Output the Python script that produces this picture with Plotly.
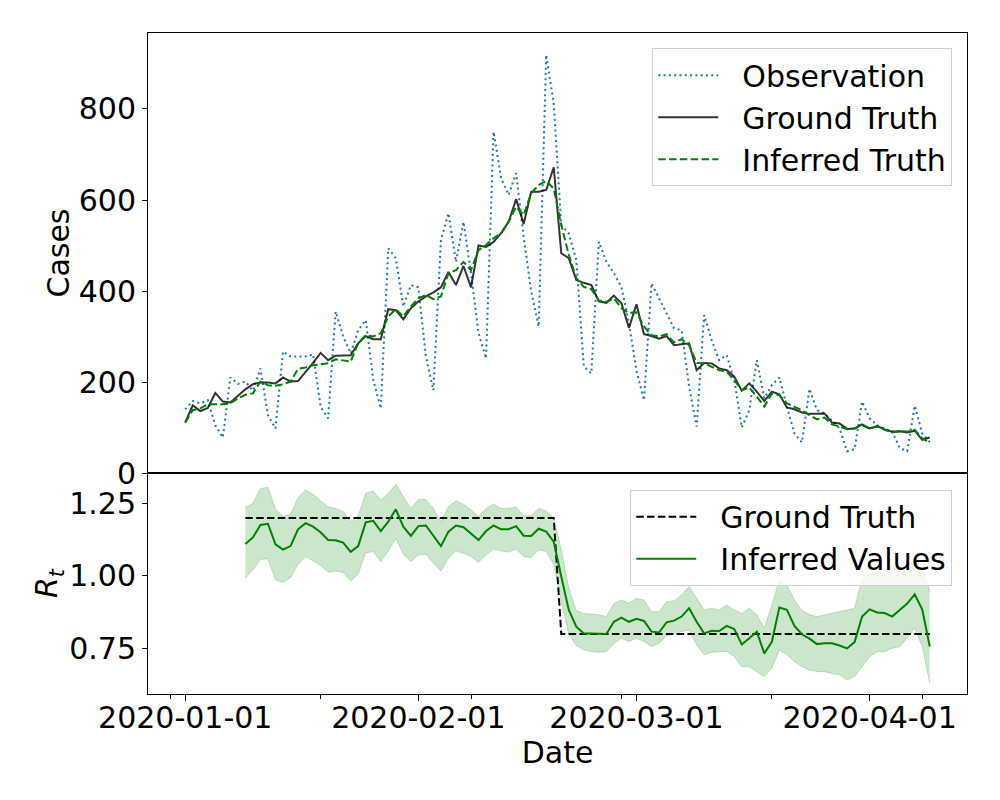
import plotly.graph_objects as go
from plotly.subplots import make_subplots
import pandas as pd

# ---------------- data ----------------
CASES_START = "2020-01-01"
RT_START = "2020-01-09"

observation = [
    140, 158, 153, 160, 105, 78, 210, 196, 201, 181,
    230, 127, 98, 267, 256, 256, 256, 261, 146, 120,
    355, 300, 263, 314, 336, 205, 142, 494, 472, 366,
    413, 408, 256, 182, 512, 571, 464, 552, 439, 307,
    252, 750, 648, 611, 659, 519, 400, 322, 919, 812,
    545, 527, 468, 234, 219, 508, 464, 439, 409, 330,
    225, 160, 417, 384, 351, 318, 314, 190, 102, 347,
    292, 248, 259, 205, 100, 138, 248, 164, 193, 210,
    146, 87, 67, 185, 138, 131, 115, 98, 48, 52,
    157, 120, 105, 98, 91, 55, 48, 148, 87, 68,
]

ground_truth = [
    111, 149, 136, 143, 176, 157, 155, 169, 184, 195,
    199, 199, 197, 210, 201, 202, 221, 242, 264, 248,
    258, 259, 259, 285, 301, 294, 294, 360, 358, 338,
    362, 377, 388, 397, 408, 442, 413, 455, 408, 500,
    497, 508, 527, 552, 602, 547, 618, 618, 622, 672,
    483, 472, 424, 418, 413, 377, 374, 390, 373, 319,
    371, 305, 301, 295, 301, 281, 283, 285, 226, 242,
    241, 230, 226, 212, 181, 197, 179, 158, 179, 173,
    144, 140, 133, 130, 130, 131, 111, 109, 97, 98,
    107, 98, 103, 96, 91, 92, 89, 93, 73, 78,
]

inferred_truth = [
    111, 138, 142, 151, 151, 151, 153, 164, 172, 175,
    201, 193, 192, 195, 201, 229, 232, 237, 239, 241,
    250, 248, 245, 285, 303, 300, 307, 344, 360, 344,
    366, 384, 391, 382, 388, 439, 446, 464, 446, 490,
    501, 516, 527, 552, 585, 567, 615, 633, 642, 625,
    545, 480, 428, 409, 404, 379, 376, 384, 362, 352,
    353, 322, 303, 300, 305, 287, 294, 281, 242, 241,
    234, 226, 223, 204, 182, 188, 168, 146, 175, 171,
    153, 146, 138, 127, 118, 122, 107, 102, 96, 98,
    105, 98, 102, 95, 89, 92, 91, 95, 76, 67,
]

rt_truth = [
    1.2, 1.2, 1.2, 1.2, 1.2, 1.2, 1.2, 1.2, 1.2, 1.2,
    1.2, 1.2, 1.2, 1.2, 1.2, 1.2, 1.2, 1.2, 1.2, 1.2,
    1.2, 1.2, 1.2, 1.2, 1.2, 1.2, 1.2, 1.2, 1.2, 1.2,
    1.2, 1.2, 1.2, 1.2, 1.2, 1.2, 1.2, 1.2, 1.2, 1.2,
    1.2, 1.2,
    0.8, 0.8, 0.8, 0.8, 0.8, 0.8, 0.8, 0.8, 0.8, 0.8,
    0.8, 0.8, 0.8, 0.8, 0.8, 0.8, 0.8, 0.8, 0.8, 0.8,
    0.8, 0.8, 0.8, 0.8, 0.8, 0.8, 0.8, 0.8, 0.8, 0.8,
    0.8, 0.8, 0.8, 0.8, 0.8, 0.8, 0.8, 0.8, 0.8, 0.8,
    0.8, 0.8, 0.8, 0.8, 0.8, 0.8, 0.8, 0.8, 0.8, 0.8,
]

rt_inferred = [
    1.110, 1.133, 1.176, 1.180, 1.109, 1.091, 1.103, 1.161, 1.182, 1.170,
    1.151, 1.124, 1.123, 1.115, 1.083, 1.103, 1.185, 1.190, 1.155, 1.187,
    1.230, 1.170, 1.138, 1.172, 1.174, 1.138, 1.103, 1.153, 1.174, 1.168,
    1.147, 1.124, 1.155, 1.174, 1.161, 1.161, 1.172, 1.139, 1.138, 1.163,
    1.153, 1.118, 0.998, 0.883, 0.825, 0.802, 0.802, 0.800, 0.800, 0.842,
    0.856, 0.842, 0.852, 0.845, 0.808, 0.805, 0.840, 0.846, 0.860, 0.889,
    0.842, 0.802, 0.811, 0.810, 0.828, 0.817, 0.764, 0.785, 0.808, 0.733,
    0.773, 0.891, 0.883, 0.828, 0.799, 0.784, 0.765, 0.768, 0.768, 0.760,
    0.750, 0.772, 0.860, 0.885, 0.874, 0.872, 0.860, 0.883, 0.905, 0.937,
    0.884, 0.757,
]

rt_upper = [
    1.236, 1.251, 1.302, 1.305, 1.233, 1.205, 1.213, 1.270, 1.297, 1.282,
    1.259, 1.239, 1.233, 1.222, 1.187, 1.208, 1.285, 1.293, 1.262, 1.285,
    1.316, 1.274, 1.233, 1.264, 1.264, 1.233, 1.187, 1.239, 1.259, 1.247,
    1.228, 1.205, 1.233, 1.248, 1.233, 1.233, 1.239, 1.208, 1.208, 1.233,
    1.224, 1.200, 1.090, 0.960, 0.880, 0.871, 0.868, 0.866, 0.860, 0.906,
    0.917, 0.906, 0.923, 0.917, 0.877, 0.877, 0.912, 0.914, 0.935, 0.963,
    0.923, 0.883, 0.889, 0.883, 0.900, 0.883, 0.871, 0.889, 0.866, 0.820,
    0.900, 0.986, 0.969, 0.917, 0.883, 0.866, 0.860, 0.866, 0.871, 0.877,
    0.883, 0.889, 0.992, 1.006, 1.009, 1.006, 1.009, 1.015, 1.021, 1.044,
    1.026, 0.950,
]

rt_lower = [
    0.992, 1.021, 1.057, 1.059, 0.986, 0.978, 0.994, 1.040, 1.067, 1.052,
    1.036, 1.013, 1.017, 1.012, 0.983, 1.006, 1.080, 1.084, 1.049, 1.086,
    1.130, 1.075, 1.049, 1.072, 1.075, 1.044, 1.017, 1.061, 1.086, 1.078,
    1.067, 1.047, 1.072, 1.093, 1.086, 1.082, 1.093, 1.067, 1.064, 1.090,
    1.084, 1.040, 0.910, 0.800, 0.760, 0.745, 0.739, 0.737, 0.739, 0.768,
    0.785, 0.774, 0.785, 0.774, 0.756, 0.768, 0.794, 0.799, 0.808, 0.814,
    0.762, 0.728, 0.737, 0.739, 0.739, 0.722, 0.687, 0.687, 0.670, 0.653,
    0.682, 0.745, 0.728, 0.705, 0.687, 0.676, 0.670, 0.670, 0.664, 0.659,
    0.641, 0.653, 0.687, 0.722, 0.739, 0.739, 0.751, 0.756, 0.785, 0.820,
    0.756, 0.630,
]

cases_ticks = [0, 200, 400, 600, 800]
rt_ticks = [0.75, 1.00, 1.25]
rt_ticktext = ["0.75", "1.00", "1.25"]

# ---------------- build ----------------
dates_cases = pd.date_range(CASES_START, periods=len(observation), freq="D")
dates_rt = pd.date_range(RT_START, periods=len(rt_inferred), freq="D")

FONT = "DejaVu Sans"
FS = 30
GREEN = "#008000"
BLUE = "#1f77b4"
PAD = "\u00a0\u00a0"  # gap between legend sample and its text

fig = make_subplots(rows=2, cols=1, shared_xaxes=True, vertical_spacing=0,
                    row_heights=[0.6657, 0.3343])

fig.add_trace(go.Scatter(x=dates_cases, y=observation, mode="lines", name=PAD + "Observation",
                         line=dict(color=BLUE, width=2, dash="2px,3.3px"),
                         legend="legend"), row=1, col=1)
fig.add_trace(go.Scatter(x=dates_cases, y=ground_truth, mode="lines", name=PAD + "Ground Truth",
                         line=dict(color="rgba(0,0,0,0.8)", width=2),
                         legend="legend"), row=1, col=1)
fig.add_trace(go.Scatter(x=dates_cases, y=inferred_truth, mode="lines", name=PAD + "Inferred Truth",
                         line=dict(color=GREEN, width=2, dash="7.5px,3.3px"),
                         legend="legend"), row=1, col=1)

fig.add_trace(go.Scatter(x=dates_rt, y=rt_upper, mode="lines", showlegend=False,
                         line=dict(color="rgba(0,128,0,0.2)", width=1),
                         hoverinfo="skip"), row=2, col=1)
fig.add_trace(go.Scatter(x=dates_rt, y=rt_lower, mode="lines", showlegend=False,
                         fill="tonexty", fillcolor="rgba(0,128,0,0.2)",
                         line=dict(color="rgba(0,128,0,0.2)", width=1),
                         hoverinfo="skip"), row=2, col=1)
fig.add_trace(go.Scatter(x=dates_rt, y=rt_truth, mode="lines", name=PAD + "Ground Truth",
                         line=dict(color="black", width=2, dash="7.5px,3.3px"),
                         legend="legend2"), row=2, col=1)
fig.add_trace(go.Scatter(x=dates_rt, y=rt_inferred, mode="lines", name=PAD + "Inferred Values",
                         line=dict(color=GREEN, width=2),
                         legend="legend2"), row=2, col=1)

x0 = pd.Timestamp(CASES_START) - pd.Timedelta(days=4.95)
x1 = dates_cases[-1] + pd.Timedelta(days=4.95)

axis_common = dict(showline=True, mirror=True, linecolor="black", linewidth=1,
                   showgrid=False, zeroline=False,
                   tickfont=dict(family=FONT, size=FS, color="black"))

fig.update_xaxes(**axis_common, range=[x0, x1], type="date")
fig.update_xaxes(row=1, col=1, showticklabels=False, ticks="")
fig.update_xaxes(row=2, col=1, ticks="outside", ticklen=6, tickcolor="black",
                 tick0="2020-01-01", dtick="M1", tickformat="%Y-%m-%d",
                 ticklabelstandoff=-9,
                 minor=dict(ticks="outside", ticklen=4, tickcolor="black",
                            tick0="2019-12-30", dtick=20 * 86400000),
                 title=dict(text="Date", font=dict(family=FONT, size=FS, color="black"),
                            standoff=4))

fig.update_yaxes(**axis_common)
fig.update_yaxes(row=1, col=1, range=[0, 967], tickvals=cases_ticks,
                 ticks="outside", ticklen=5, tickcolor="black",
                 title=dict(text="Cases", font=dict(family=FONT, size=FS, color="black"),
                            standoff=0))
fig.update_yaxes(row=2, col=1, range=[0.593, 1.355], tickvals=rt_ticks, ticktext=rt_ticktext,
                 ticks="outside", ticklen=5, tickcolor="black",
                 title=dict(text="<i>R</i><sub><i>t</i></sub>",
                            font=dict(family=FONT, size=FS, color="black"), standoff=2))

legend_style = dict(font=dict(family=FONT, size=FS, color="black"),
                    bgcolor="rgba(255,255,255,0.8)", bordercolor="#d0d0d0", borderwidth=1,
                    xanchor="right", yanchor="top", itemwidth=60, traceorder="normal")

# the page body adds an 8px offset, so the figure is 8px smaller with margins shifted
fig.update_layout(
    width=992, height=792,
    margin=dict(l=140, r=33, t=25, b=106),
    paper_bgcolor="white", plot_bgcolor="white",
    font=dict(family=FONT, size=FS, color="black"),
    legend=dict(**legend_style, x=0.982, y=0.977),
    legend2=dict(**legend_style, x=0.982, y=0.309),
)

fig.write_html("out.html")
